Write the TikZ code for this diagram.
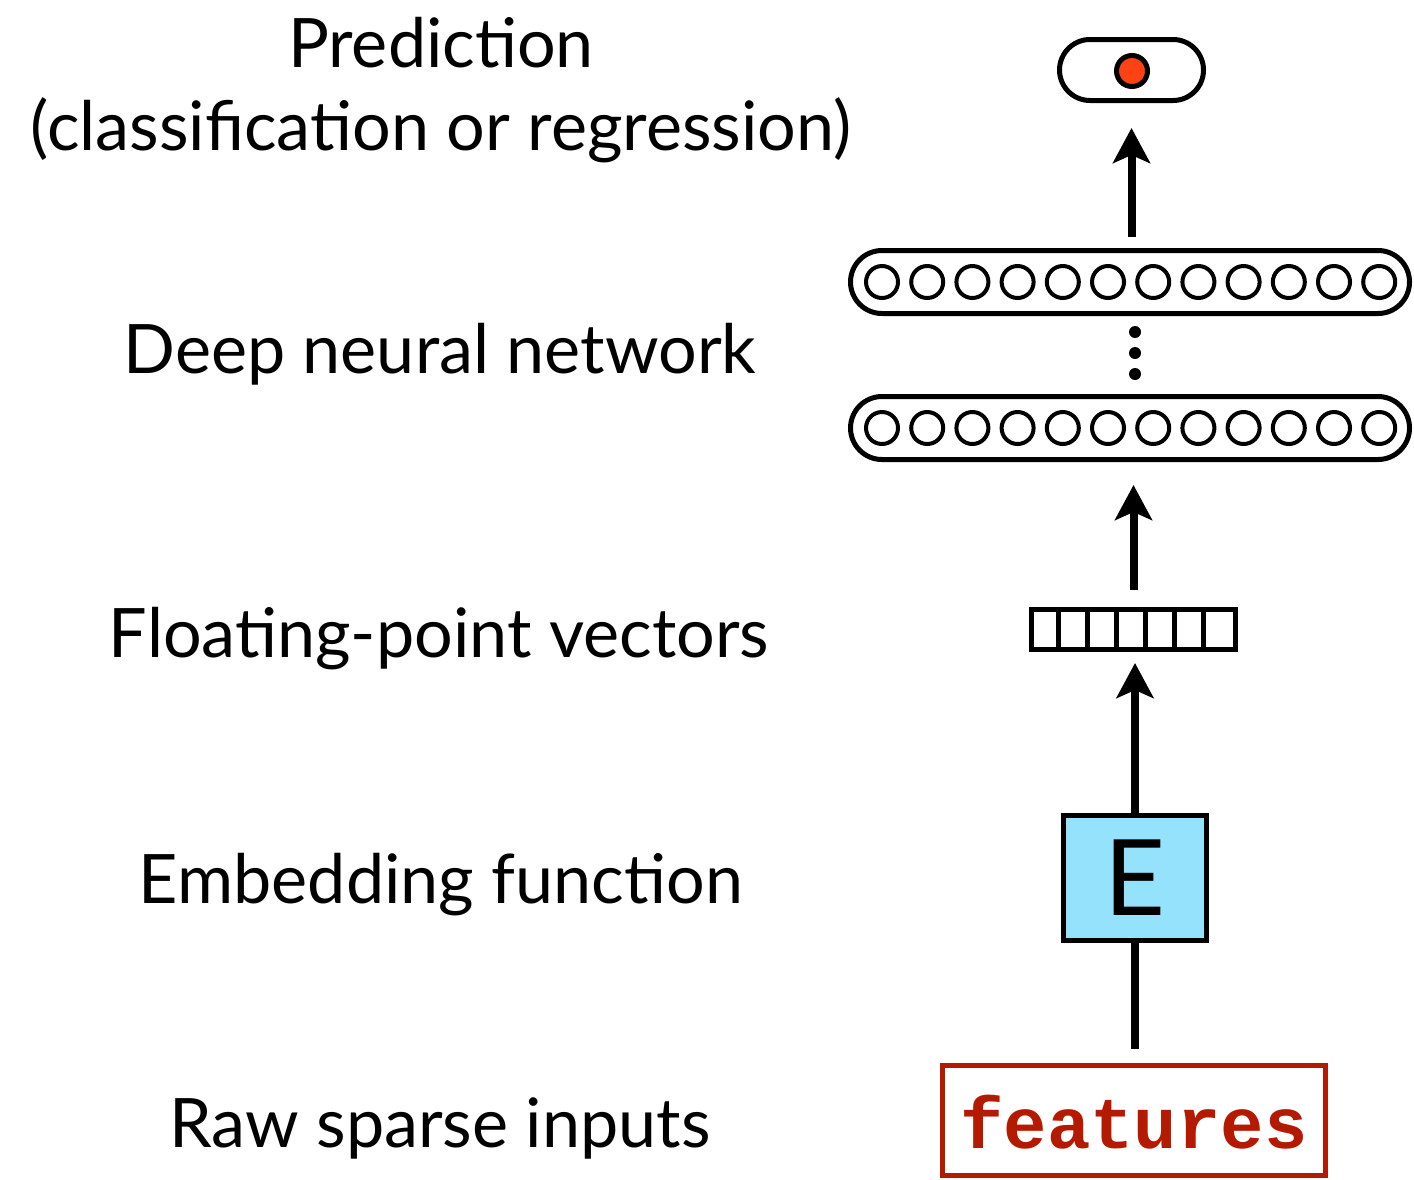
\documentclass[tikz,border=0pt]{standalone}
\usepackage{fontspec}
\setmainfont{Lato}
\newfontfamily\codefont{Liberation Mono}
\usetikzlibrary{arrows.meta}
\definecolor{efill}{HTML}{94E2FC}
\definecolor{dotred}{HTML}{FF4213}
\definecolor{featred}{HTML}{B41A00}
\begin{document}
\begin{tikzpicture}[x=1bp,y=-1bp,
  lbl/.style={font=\fontsize{68.5}{83}\selectfont, align=center, inner sep=0, anchor=base},
  pill/.style={draw, line width=5bp, minimum width=559bp, minimum height=63bp, rounded corners=31.5bp, inner sep=0},
  unit/.style={draw, circle, line width=4bp, minimum size=32bp, inner sep=0},
  vdot/.style={fill, circle, minimum size=12bp, inner sep=0},
  arr/.style={line width=8bp, -{Stealth[length=35bp,width=37bp,inset=8bp]}},
  conn/.style={line width=8bp}]
\useasboundingbox (0,0) rectangle (1414,1179);

% labels
\node[lbl] (tpred) at (441,150) {Prediction\\(classification or regression)};
\node[lbl] (tdnn) at (440,373) {Deep neural network};
\node[lbl] (tvec) at (439,657) {Floating-point vectors};
\node[lbl] (temb) at (441,903) {Embedding function};
\node[lbl] (traw) at (440,1147) {Raw sparse inputs};

% output
\node[draw, line width=5bp, minimum width=144bp, minimum height=61bp, rounded corners=30.5bp, inner sep=0] (out) at (1131.5,70) {};
\node[draw, circle, line width=5bp, fill=dotred, minimum size=31bp, inner sep=0] (outdot) at (1132,71) {};

% layers
\node[pill] (l1) at (1130,282) {};
\node[pill] (l2) at (1130,428) {};
\foreach \i in {0,...,11} {
  \node[unit] (a\i) at ({882+45.2*\i},282) {};
  \node[unit] (b\i) at ({882+45.2*\i},428) {};
}
\node[vdot] (d1) at (1135,332) {};
\node[vdot] (d2) at (1135,353) {};
\node[vdot] (d3) at (1135,374) {};

% vector
\node[draw, line width=5bp, minimum width=204bp, minimum height=40bp, inner sep=0] (vec) at (1133.5,629.5) {};
\foreach \k in {1,...,6} {
  \draw[line width=5bp] ([xshift={\k*29.143bp}]vec.north west) -- ([xshift={\k*29.143bp}]vec.south west);
}

% embedding
\node[draw, line width=5bp, fill=efill, minimum width=143bp, minimum height=125bp, inner sep=0,
      font=\fontsize{106}{106}\selectfont] (emb) at (1135,878) {E};

% features
\node[draw=featred, line width=5bp, text=featred, minimum width=383bp, inner sep=0,
      text height=82.5bp, text depth=27.5bp,
      font=\codefont\bfseries\fontsize{72.5}{72.5}\selectfont] (feat) at (1134,1120.5) {features};

% connectors
\draw[arr, shorten <=11bp, shorten >=25bp] (out.south |- l1.north) -- (out.south);
\draw[arr, shorten <=17bp, shorten >=23bp] (vec.north) -- (vec.north |- l2.south);
\draw[arr, shorten >=11bp] (emb.north) -- (emb.north |- vec.south);
\draw[conn, shorten <=14bp] (feat.north -| emb.south) -- (emb.south);
\end{tikzpicture}
\end{document}
